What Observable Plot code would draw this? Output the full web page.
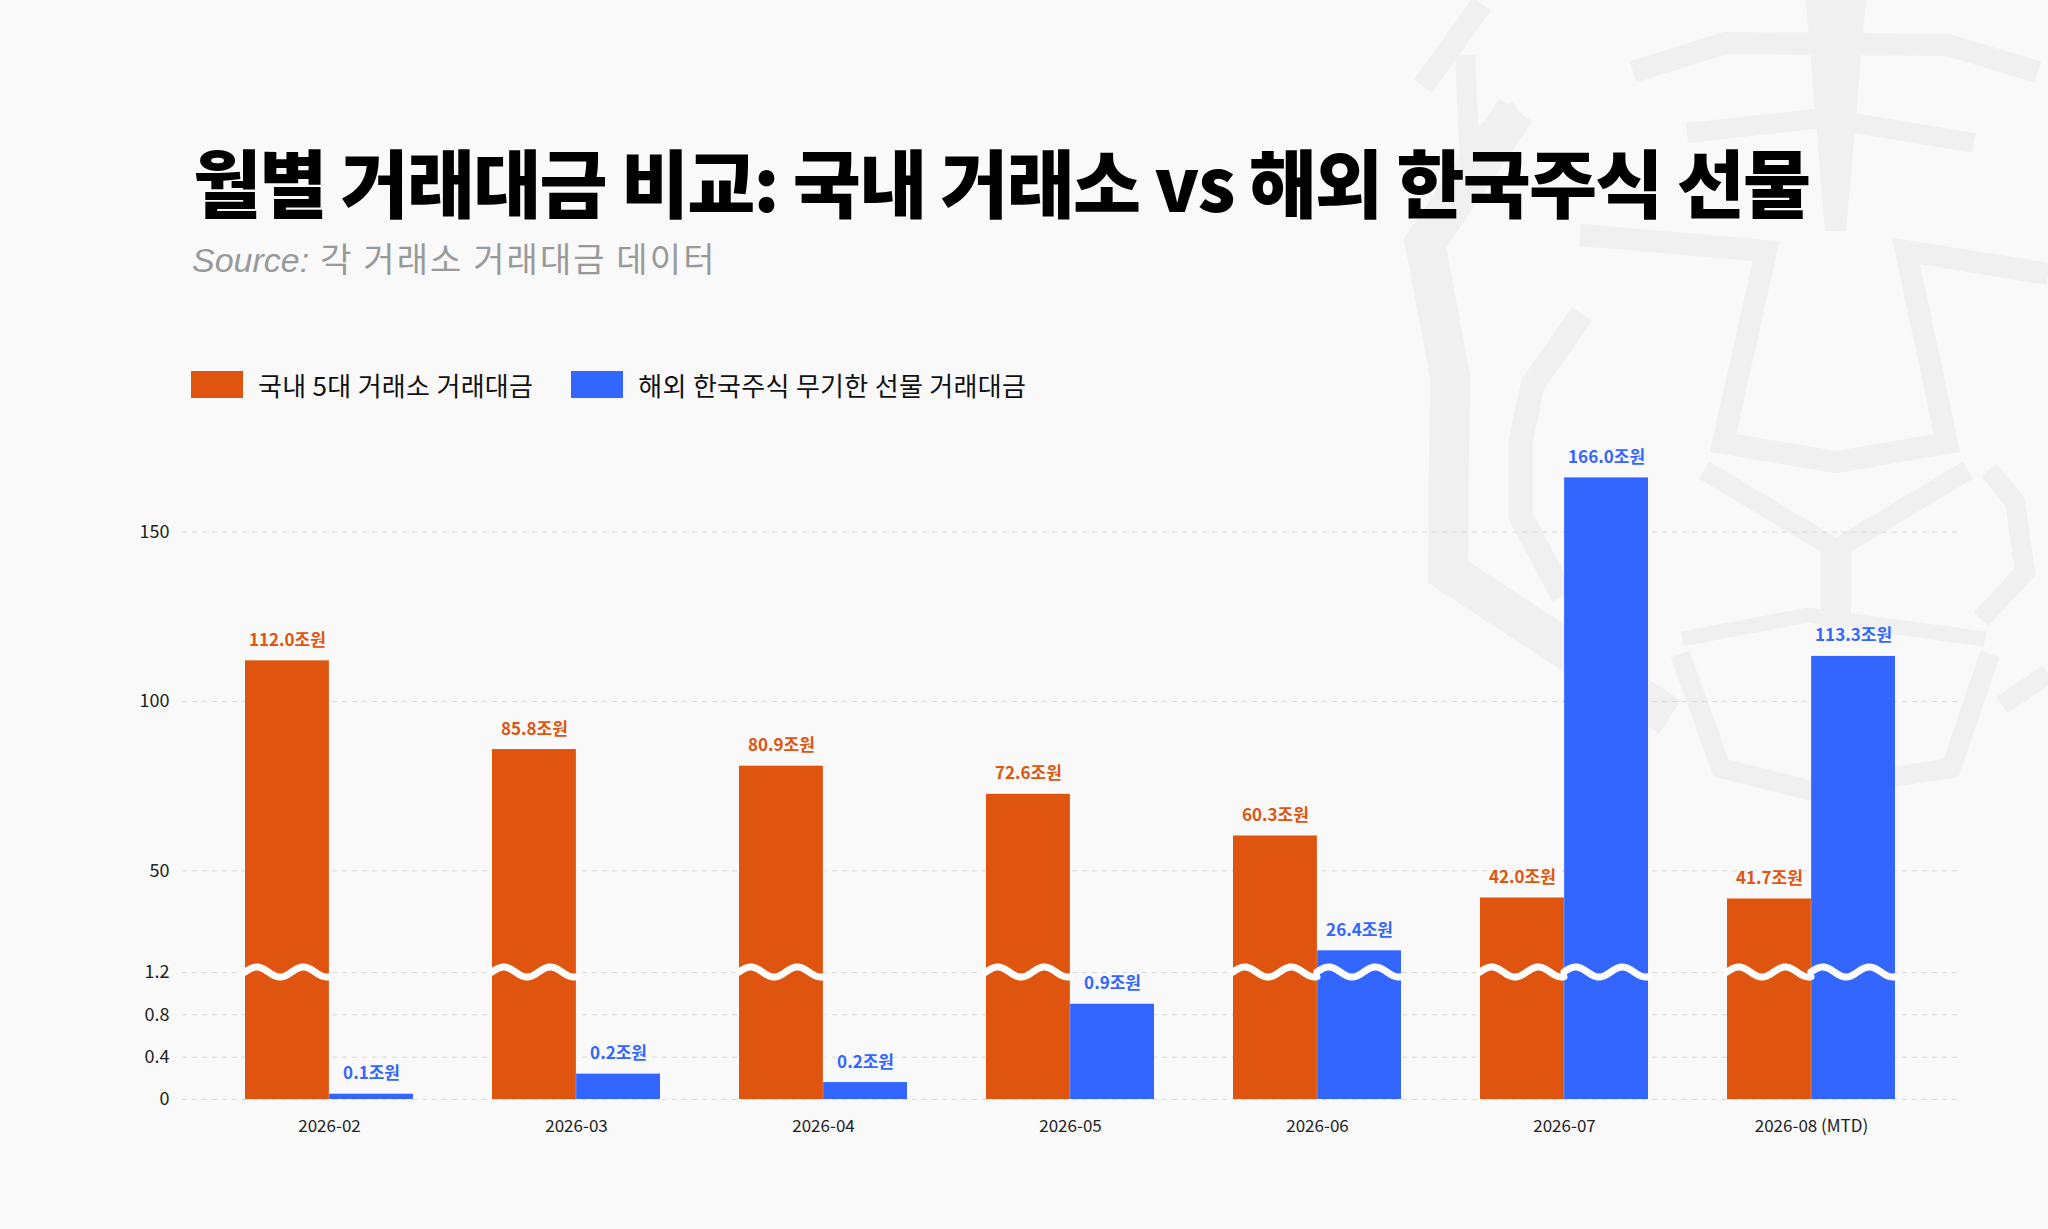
<!DOCTYPE html>
<html>
<head>
<meta charset="utf-8">
<script src="https://cdn.jsdelivr.net/npm/d3@7"></script>
<script src="https://cdn.jsdelivr.net/npm/@observablehq/plot@0.6"></script>
<style>
html,body{margin:0;padding:0;background:#f9f9f9;}
#page{position:relative;width:2048px;height:1229px;overflow:hidden;background:#f9f9f9;font-family:"Noto Sans CJK KR","Noto Sans",sans-serif;}
#wm{position:absolute;left:0;top:0;}
#title{position:absolute;left:193px;top:143px;font-size:74px;font-weight:900;line-height:1;letter-spacing:-1.8px;color:#000;white-space:nowrap;}
#subtitle{position:absolute;left:192px;top:241px;font-size:34px;line-height:1;color:#999;white-space:nowrap;}
#subtitle i{font-family:"Liberation Sans",Arial,sans-serif;}
#subtitle span{letter-spacing:2.1px;margin-left:11px;}
#legend{position:absolute;left:191px;top:371px;display:flex;align-items:center;font-size:26px;letter-spacing:0.3px;color:#111;line-height:27px;}
.item{display:flex;align-items:center;margin-right:38px;}
.sw{width:52px;height:27px;margin-right:15px;}
#chart{position:absolute;left:0;top:440px;}
</style>
</head>
<body>
<div id="page">
<svg id="wm" width="2048" height="1229" fill="none" stroke="#f0f0f0" stroke-linejoin="miter" stroke-linecap="butt">
  <path d="M1423,86L1482,4" stroke-width="22"/>
  <path d="M1465,55L1469,145L1518,110" stroke-width="20"/>
  <path d="M1516,110L1425,243L1450,376L1448,572L1550,639L1670,717" stroke-width="40"/>
  <path d="M1582,314L1533,384L1521,439L1521,517L1563,596" stroke-width="24"/>
  <path d="M1633,72L1725,43L1947,45L2038,72" stroke-width="22"/>
  <polygon points="1806,0 1866,0 1846,231 1825,231" fill="#f0f0f0" stroke="none"/>
  <path d="M1687,133L1823,118L1974,143" stroke-width="20"/>
  <path d="M1580,235L1766,251L1723,443L1836,462L1947,443L1906,251L2048,274" stroke-width="22"/>
  <path d="M1704,470L1836,549L1968,470" stroke-width="20"/>
  <path d="M1836,541L1836,627" stroke-width="30"/>
  <path d="M1680,654L1721,768L1808,790L1951,768L1990,654" stroke-width="20"/>
  <path d="M1682,639L1808,615L1985,639" stroke-width="15"/>
  <path d="M1989,470L2015,502L2025,572L1981,619" stroke-width="20"/>
  <path d="M2002,705L2048,674" stroke-width="20"/>
</svg>
<div id="title">월별 거래대금 비교: 국내 거래소 vs 해외 한국주식 선물</div>
<div id="subtitle"><i>Source:</i><span>각 거래소 거래대금 데이터</span></div>
<div id="legend"></div>
<div id="chart"></div>
</div>
<script>
// ---- data ----
const months = ["2026-02", "2026-03", "2026-04", "2026-05", "2026-06", "2026-07", "2026-08 (MTD)"];
const domestic = [112.0, 85.8, 80.9, 72.6, 60.3, 42.0, 41.7];
const overseas = [0.05, 0.24, 0.16, 0.9, 26.4, 166.0, 113.3];
const seriesNames = ["국내 5대 거래소 거래대금", "해외 한국주식 무기한 선물 거래대금"];
const seriesColors = ["#DF5510", "#3366FF"];
const yTicks = [0, 0.4, 0.8, 1.2, 50, 100, 150];
const breakLow = 1.2;
const breakHigh = 20;
const unit = "조원";

// ---- legend ----
const legend = document.getElementById("legend");
seriesNames.forEach((name, i) => {
  const item = document.createElement("div");
  item.className = "item";
  const sw = document.createElement("div");
  sw.className = "sw";
  sw.style.background = seriesColors[i];
  const label = document.createElement("span");
  label.textContent = name;
  item.appendChild(sw);
  item.appendChild(label);
  legend.appendChild(item);
});

// ---- table ----
const rows = months.map((m, i) => ({month: m, domestic: domestic[i], overseas: overseas[i]}));

// ---- layout ----
const W = 2048, H = 740;
const mL = 182, mR = 91, mB = 81;
const padInner = 0.32, padOuter = 0.247;
const step = (W - mL - mR) / (months.length - padInner + 2 * padOuter);
const band = step * (1 - padInner);
const half = band / 2;
const yBottom = H - mB;       // value 0
const yBreak = 532;           // break line (1.2 / 20)
const y150 = 91.6;            // value 150

const fmt = v => v.toFixed(1) + unit;

const chart = Plot.plot({
  width: W,
  height: H,
  marginLeft: mL,
  marginRight: mR,
  marginBottom: mB,
  marginTop: 0,
  style: {background: "transparent", fontFamily: "'Noto Sans CJK KR', 'Noto Sans', sans-serif", color: "#222", overflow: "visible"},
  x: {type: "band", domain: months, paddingInner: padInner, paddingOuter: padOuter, label: null},
  y: {type: "linear", domain: [0, breakLow, breakHigh, 150], range: [yBottom, yBreak, yBreak, y150], label: null},
  marks: [
    Plot.gridY(yTicks, {stroke: "#d9d9d9", strokeOpacity: 1, strokeDasharray: "5,5", strokeWidth: 1}),
    Plot.barY(rows, {x: "month", y: "domestic", fill: seriesColors[0], insetRight: half, insetLeft: 0}),
    Plot.barY(rows, {x: "month", y: "overseas", fill: seriesColors[1], insetLeft: half, insetRight: 0}),
    Plot.text(rows, {x: "month", y: "domestic", text: d => fmt(d.domestic), dx: -half / 2, dy: -15, lineAnchor: "bottom", fill: seriesColors[0], fontSize: 17, fontWeight: 700}),
    Plot.text(rows, {x: "month", y: "overseas", text: d => fmt(d.overseas), dx: half / 2, dy: -15, lineAnchor: "bottom", fill: seriesColors[1], fontSize: 17, fontWeight: 700}),
    Plot.axisY(yTicks, {tickSize: 0, tickPadding: 13, fontSize: 18, fill: "#222", label: null, tickFormat: d => String(d)}),
    Plot.axisX({tickSize: 0, tickPadding: 20, fontSize: 17, fill: "#222", label: null})
  ]
});
document.getElementById("chart").appendChild(chart);

// ---- axis break waves, positioned through the chart's own scales ----
const sx = chart.scale("x"), sy = chart.scale("y");
const bw = sx.bandwidth / 2;
const yc = sy.apply(breakLow);
const period = bw / 1.8, amp = 5;
const line = d3.line();
const g = d3.select(chart).append("g").attr("fill", "none").attr("stroke", "#ffffff").attr("stroke-width", 7).attr("stroke-linecap", "round");
rows.forEach(r => {
  [r.domestic, r.overseas].forEach((v, s) => {
    if (v <= breakLow) return;
    const x0 = sx.apply(r.month) + s * bw;
    const pts = d3.range(0, bw + 0.5, 1).map(t => [x0 + t, yc - amp * Math.sin(2 * Math.PI * t / period)]);
    g.append("path").attr("d", line(pts));
  });
});
</script>
</body>
</html>
